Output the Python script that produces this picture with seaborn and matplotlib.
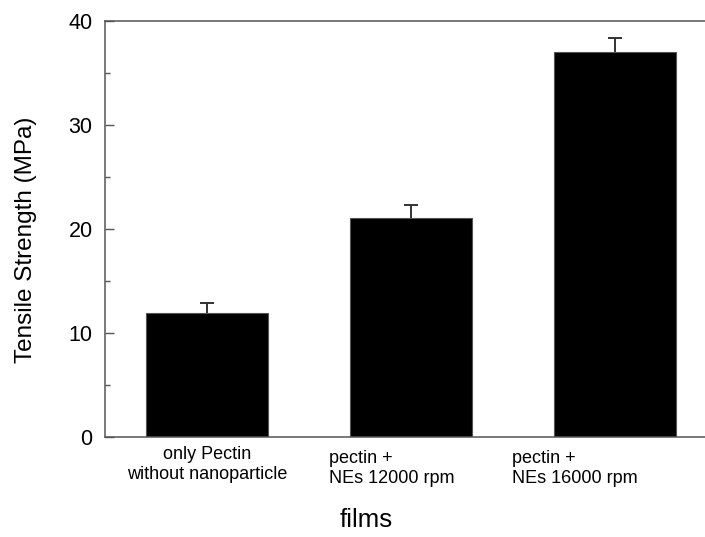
import matplotlib
matplotlib.use("Agg")
import matplotlib.pyplot as plt
import seaborn as sns
import pandas as pd

categories = ["only Pectin\nwithout nanoparticle", "pectin +\nNEs 12000 rpm", "pectin +\nNEs 16000 rpm"]
values = [11.9, 21.0, 37.0]
errors = [0.95, 1.25, 1.35]
yticks = [0, 10, 20, 30, 40]

sns.set_style("ticks")
plt.rcParams['font.family'] = ['Liberation Sans', 'DejaVu Sans']
plt.rcParams['text.color'] = 'black'
plt.rcParams['ytick.labelcolor'] = 'black'

df = pd.DataFrame({"film": categories, "ts": values})

fig = plt.figure(figsize=(7.05, 5.37), dpi=100)
ax = fig.add_axes([105/705, 1-437/537, 612/705, (437-20.7)/537])

sns.barplot(data=df, x="film", y="ts", color="black", width=0.6, errorbar=None,
            edgecolor="#555555", linewidth=0.8, ax=ax, saturation=1)
for p in ax.patches:
    p.set_facecolor("black")

xs = list(range(len(categories)))
eb = ax.errorbar(xs, values, yerr=[[0]*len(errors), errors], fmt="none", ecolor="#333333",
                 elinewidth=1.4, capsize=5, capthick=1.4, zorder=3)
# keep only the upper caps
eb[1][0].remove()

ax.set_xlim(-0.5, 2.5)
ax.set_ylim(0, 40)
ax.set_yticks(yticks)
ax.set_yticklabels([str(v) for v in yticks], fontsize=15.5, color="black")
ax.yaxis.set_minor_locator(matplotlib.ticker.MultipleLocator(5))
ax.tick_params(axis="y", which="major", direction="in", length=6.5, width=1.0, color="#555555", pad=9)
ax.tick_params(axis="y", which="minor", direction="in", length=3.5, width=1.0, color="#555555")
ax.set_xticks(xs)
ax.set_xticklabels([""]*len(xs))
ax.tick_params(axis="x", length=0)
for s in ax.spines.values():
    s.set_color("#555555")
    s.set_linewidth(1.1)
    s.set_visible(True)
ax.set_xlabel("")
ax.set_ylabel("")

tr = ax.get_xaxis_transform()
ax.text(0, -0.022, categories[0], transform=tr, ha="center", va="top",
        multialignment="center", fontsize=13, linespacing=1.2, color="black")
ax.text(0.597, -0.032, categories[1], transform=tr, ha="left", va="top",
        multialignment="left", fontsize=13, linespacing=1.2, color="black")
ax.text(1.496, -0.032, categories[2], transform=tr, ha="left", va="top",
        multialignment="left", fontsize=13, linespacing=1.2, color="black")

fig.text(366/705, 1-520/537, "films", ha="center", va="center", fontsize=18.5, color="black")
fig.text(26/705, 1-240/537, "Tensile Strength (MPa)", rotation=90, ha="center", va="center",
         fontsize=17.5, color="black")

fig.savefig("out.png", dpi=100)
